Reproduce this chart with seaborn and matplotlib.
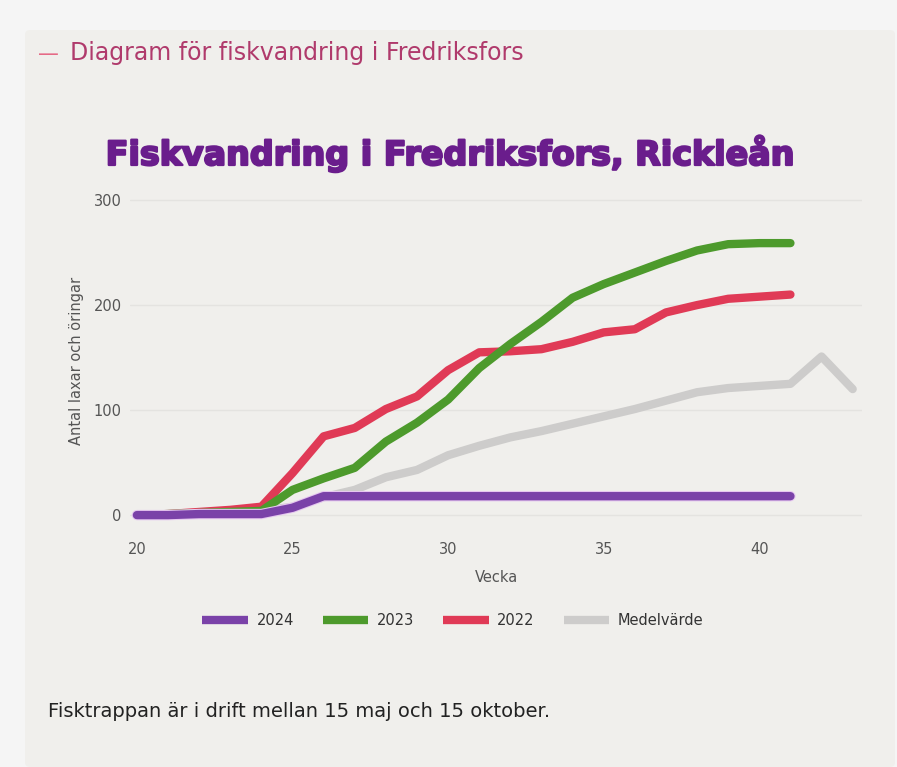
import pandas as pd
import seaborn as sns
import matplotlib.pyplot as plt
import matplotlib.patheffects as pe
from matplotlib.lines import Line2D
from matplotlib.patches import FancyBboxPatch

# Values (cumulative count per week)
weeks = list(range(20, 42))
weeks_avg = list(range(20, 44))

y2024 = [0, 0, 1, 1, 1, 7, 18, 18, 18, 18, 18, 18, 18, 18, 18, 18, 18, 18, 18, 18, 18, 18]
y2023 = [0, 1, 2, 3, 4, 24, 35, 45, 70, 88, 110, 140, 163, 184, 207, 220, 231, 242, 252, 258, 259, 259]
y2022 = [0, 1, 3, 5, 8, 40, 75, 83, 101, 113, 138, 155, 156, 158, 165, 174, 177, 193, 200, 206, 208, 210]
y_avg = [0, 1, 2, 3, 4, 8, 17, 24, 36, 43, 57, 66, 74, 80, 87, 94, 101, 109, 117, 121, 123, 125, 151, 120]

labels = ['2024', '2023', '2022', 'Medelvärde']
colors = {'2024': '#7a42a8', '2023': '#4d9a2c', '2022': '#e03a56', 'Medelvärde': '#cdcccb'}

df = pd.concat([
    pd.DataFrame({'Vecka': weeks, 'Antal': y2024, 'serie': '2024'}),
    pd.DataFrame({'Vecka': weeks, 'Antal': y2023, 'serie': '2023'}),
    pd.DataFrame({'Vecka': weeks, 'Antal': y2022, 'serie': '2022'}),
    pd.DataFrame({'Vecka': weeks_avg, 'Antal': y_avg, 'serie': 'Medelvärde'}),
])

sns.set_style('white')
plt.rcParams['font.family'] = ['DejaVu Sans']

fig = plt.figure(figsize=(8.97, 7.67), dpi=100, facecolor='#f5f5f5')

# card background
card = FancyBboxPatch((25 / 897, 0), 870 / 897, 737 / 767, boxstyle='round,pad=0,rounding_size=0.006',
                      transform=fig.transFigure, facecolor='#f0efec', edgecolor='none', zorder=-5)
fig.patches.append(card)

ax = fig.add_axes([0.145, 0.312, 0.816, 0.434])
ax.set_facecolor('none')

# draw average first so the yearly lines sit on top
for s in ['Medelvärde', '2022', '2023', '2024']:
    sub = df[df['serie'] == s]
    sns.lineplot(data=sub, x='Vecka', y='Antal', color=colors[s], linewidth=6,
                 solid_capstyle='round', solid_joinstyle='round', ax=ax, legend=False)

# faint halo under the 2024 line, as in the original
ax.lines[-1].set_path_effects([pe.Stroke(linewidth=7.5, foreground='#e6c8f0'), pe.Normal()])

ax.set_xlim(19.78, 43.3)
ax.set_ylim(-12, 305)
ax.set_xticks([20, 25, 30, 35, 40])
ax.set_yticks([0, 100, 200, 300])
ax.grid(axis='y', color='#e4e3e0', linewidth=1)
ax.grid(axis='x', visible=False)
for sp in ax.spines.values():
    sp.set_visible(False)
ax.tick_params(axis='both', length=0, labelsize=10.5, colors='#555555')
ax.tick_params(axis='x', pad=10)
ax.tick_params(axis='y', pad=6)
ax.set_xlabel('Vecka', fontsize=10.5, color='#555555', labelpad=10)
ax.set_ylabel('Antal laxar och öringar', fontsize=10.5, color='#555555', labelpad=7)

handles = [Line2D([0], [0], color=colors[s], linewidth=6, solid_capstyle='butt') for s in labels]
fig.legend(handles, labels, loc='center', bbox_to_anchor=(0.505, 0.191), ncol=4, frameon=False,
           fontsize=10.5, handlelength=3.1, columnspacing=2.0, handletextpad=0.6, labelcolor='#333333')

fig.text(38 / 897, 1 - 60 / 767, '—', color='#e56a86', fontsize=15, va='baseline')
fig.text(70 / 897, 1 - 60 / 767, 'Diagram för fiskvandring i Fredriksfors', color='#b03a6c',
         fontsize=17, va='baseline')
fig.text(450 / 897, 1 - 165 / 767, 'Fiskvandring i Fredriksfors, Rickleån', color='#6a1d8c',
         fontsize=24, fontweight='bold', ha='center', va='baseline',
         path_effects=[pe.withStroke(linewidth=1.6, foreground='#6a1d8c')])
fig.text(48 / 897, 1 - 717 / 767, 'Fisktrappan är i drift mellan 15 maj och 15 oktober.',
         color='#222222', fontsize=14, va='baseline')

fig.savefig('out.png', dpi=100, facecolor=fig.get_facecolor())
